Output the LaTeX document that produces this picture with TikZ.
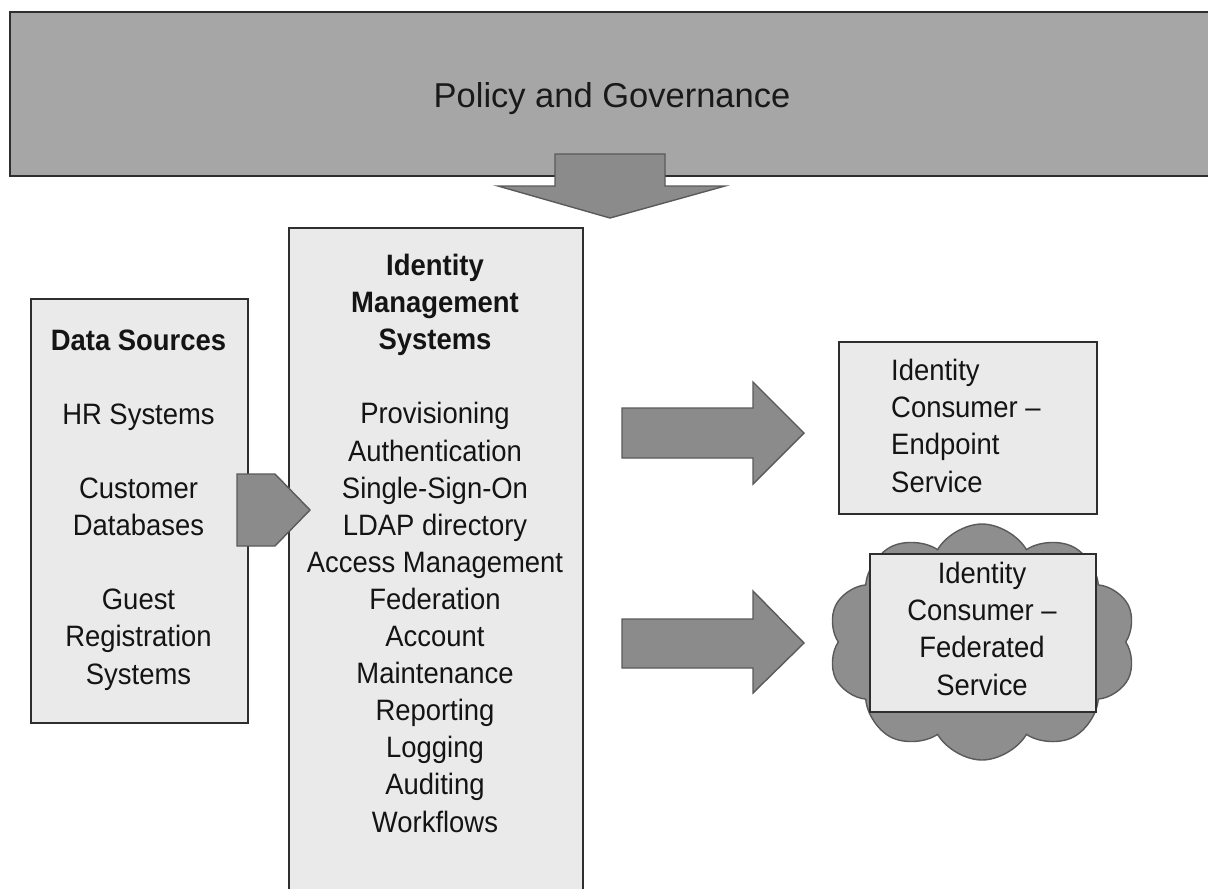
\documentclass[tikz,border=0pt]{standalone}
\usepackage{fontspec}
\setmainfont{Liberation Sans}
\newfontfamily\bodyfont{Liberation Sans}[FakeStretch=0.93,Ligatures=TeX]
\usetikzlibrary{shapes.symbols}
\definecolor{bannergray}{HTML}{A6A6A6}
\definecolor{arrowgray}{HTML}{8B8B8B}
\definecolor{cloudgray}{HTML}{8E8E8E}
\definecolor{boxfill}{HTML}{EAEAEA}
\definecolor{edgecol}{HTML}{2E2E2E}
\definecolor{arrowedge}{HTML}{5A5A5A}
\tikzset{
  panel/.style={draw=edgecol, line width=2.2pt, fill=boxfill},
  blockarrow/.style={draw=arrowedge, line width=1.4pt, fill=arrowgray, line join=miter},
  body/.style={font=\bodyfont\fontsize{29.5}{37.1}\selectfont, inner sep=0pt, text=black!92},
  titletext/.style={font=\fontsize{34.5}{40}\selectfont, inner sep=0pt, text=black!90},
}
\begin{document}
\begin{tikzpicture}[x=1pt,y=-1pt]
\useasboundingbox (0,0) rectangle (1208,889);
\clip (0,0) rectangle (1208,889);
\fill[white] (0,0) rectangle (1208,889);

% banner
\path[draw=edgecol, line width=2.2pt, fill=bannergray] (10,12) rectangle (1220,176);
\node[titletext, anchor=base] (policy) at (612,107) {Policy and Governance};

% down arrow
\path[blockarrow] (555,154) -- (665,154) -- (665,186) -- (725,186) -- (610,218)
  -- (498,186) -- (555,186) -- cycle;

% data sources box
\node[panel, minimum width=217pt, minimum height=424pt, anchor=north west] (data) at (30,298) {};
\node[body, align=center, anchor=base] (datatext) at (138.5,684)
  {\textbf{Data Sources}\\[37.1pt]HR Systems\\[37.1pt]Customer\\Databases\\[37.1pt]Guest\\Registration\\Systems};

% identity management box
\node[panel, minimum width=294pt, minimum height=690pt, anchor=north west] (ims) at (288,227) {};
\node[body, align=center, anchor=base] (imstext) at (435,832)
  {\textbf{Identity}\\\textbf{Management}\\\textbf{Systems}\\[37.1pt]Provisioning\\Authentication\\Single-Sign-On\\LDAP directory\\Access Management\\Federation\\Account\\Maintenance\\Reporting\\Logging\\Auditing\\Workflows};

% small arrow data -> ims
\path[blockarrow] (237,474) -- (275,474) -- (310,510) -- (275,546) -- (237,546) -- cycle;

% right arrows
\path[blockarrow] (622,408) -- (753,408) -- (753,382) -- (804,433) -- (753,484)
  -- (753,458) -- (622,458) -- cycle;
\path[blockarrow] (622,619) -- (753,619) -- (753,591) -- (804,643) -- (753,693)
  -- (753,668) -- (622,668) -- cycle;

% endpoint box
\node[panel, minimum width=258pt, minimum height=172pt, anchor=north west] (endpoint) at (838,341) {};
\node[body, align=left, anchor=base west] (endpointtext) at (891,492)
  {Identity\\Consumer –\\Endpoint\\Service};

% cloud
\node[cloud, cloud puffs=10, cloud puff arc=120, aspect=1.3, draw=arrowedge, line width=1.4pt,
  fill=cloudgray, minimum width=308pt, minimum height=236pt, inner sep=0pt] (cloud) at (982,642) {};
\node[panel, minimum width=226pt, minimum height=158pt, anchor=north west] (federated) at (869,553) {};
\node[body, align=center, anchor=base] (federatedtext) at (982,695)
  {Identity\\Consumer –\\Federated\\Service};
\end{tikzpicture}
\end{document}
